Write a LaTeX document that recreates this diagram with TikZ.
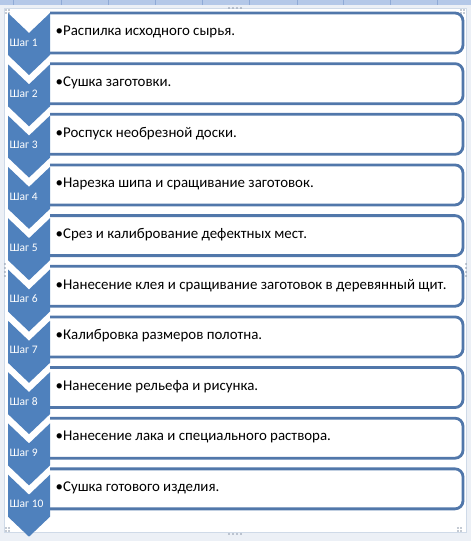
\documentclass[tikz,border=0pt]{standalone}
\usepackage{fontspec}
\setmainfont{Carlito}
\definecolor{chevblue}{HTML}{4F81BD}
\definecolor{boxline}{HTML}{5177AA}
\definecolor{stripblue}{HTML}{B4C8E8}
\definecolor{stripline}{HTML}{8FAAD6}
\definecolor{framecol}{HTML}{CFDAE8}
\definecolor{dotcol}{HTML}{8A96A8}
\tikzset{
  chevron/.style={fill=chevblue,draw=none},
  stepbox/.style={draw=boxline,line width=2.8pt,fill=white,rounded corners=8pt},
  steptext/.style={anchor=west,font=\fontsize{14.9}{16}\selectfont,inner sep=0pt,text=black},
  steplabel/.style={anchor=west,font=\fontsize{11.5}{12}\selectfont,inner sep=0pt,text=white},
  handle/.style={fill=dotcol,draw=none}
}
\begin{document}
\begin{tikzpicture}[x=1pt,y=-1pt]
\useasboundingbox (0,0) rectangle (471,541);
% background
\fill[white] (0,0) rectangle (471,541);
\fill[stripblue] (0,0) rectangle (471,5);
\foreach \gx in {13,61,108,155,202,249,297,343,390,437}
  \draw[stripline,line width=0.8pt] (\gx,0) -- (\gx,5);
% selection frame
\fill[framecol!40] (0,5) rectangle (471,541);
\fill[white] (4,8) rectangle (467,533);
\draw[framecol,line width=1.5pt] (4.5,8.5) rectangle (466.5,532.5);
% handles
\foreach \hx/\hy in {6/10,9/10,6/13,9/13, 461/10,464/10,461/13,464/13, 6/528,9/528,6/531,9/531, 458/528,461/528,458/531,461/531}
  \fill[handle] (\hx,\hy) circle (0.8pt);
\foreach \hx in {229,233,237,241}
  {\fill[handle] (\hx,8) circle (0.8pt); \fill[handle] (\hx,534) circle (0.8pt);}
\foreach \hy in {264,268,272,276}
  {\fill[handle] (5,\hy) circle (0.8pt); \fill[handle] (466,\hy) circle (0.8pt);}
% steps
\foreach \i/\txt in {
  1/{Распилка исходного сырья.},
  2/{Сушка заготовки.},
  3/{Роспуск необрезной доски.},
  4/{Нарезка шипа и сращивание заготовок.},
  5/{Срез и калибрование дефектных мест.},
  6/{Нанесение клея и сращивание заготовок в деревянный щит.},
  7/{Калибровка размеров полотна.},
  8/{Нанесение рельефа и рисунка.},
  9/{Нанесение лака и специального раствора.},
  10/{Сушка готового изделия.}}
{
  \pgfmathsetmacro{\bt}{13+50.65*(\i-1)}
  \pgfmathsetmacro{\bb}{\bt+40}
  \pgfmathsetmacro{\bm}{\bt+19}
  \pgfmathsetmacro{\ct}{13+51.3*(\i-1)}
  \pgfmathsetmacro{\cn}{\ct+20}
  \pgfmathsetmacro{\cc}{\ct+42}
  \pgfmathsetmacro{\cp}{\ct+62}
  \pgfmathsetmacro{\cl}{\ct+29.5}
  \draw[stepbox] (50,\bt) -- (463,\bt) -- (463,\bb) -- (50,\bb);
  \node[steptext] (box\i) at (55.5,\bm) {•\txt};
  \fill[chevron] (8,\ct) -- (29,\cn) -- (50,\ct) -- (50,\cc) -- (29,\cp) -- (8,\cc) -- cycle;
  \node[steplabel] (lab\i) at (9.5,\cl) {Шаг \i};
}
\end{tikzpicture}
\end{document}
